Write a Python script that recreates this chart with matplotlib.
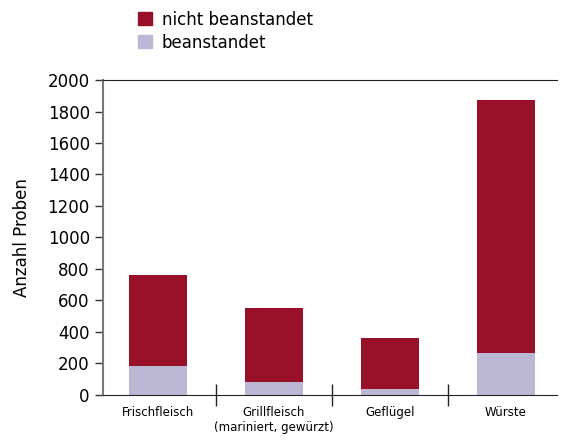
import numpy as np
import matplotlib.pyplot as plt
from matplotlib.patches import Patch

categories = ["Frischfleisch", "Grillfleisch\n(mariniert, gewürzt)", "Geflügel", "Würste"]
beanstandet = [182, 82, 36, 265]
gesamt = [760, 550, 360, 1870]
nicht_beanstandet = [g - b for g, b in zip(gesamt, beanstandet)]

col_red = "#981027"
col_lav = "#bdb7d6"

plt.rcParams['font.family'] = ['DejaVu Sans']

fig = plt.figure(figsize=(5.61, 4.43), dpi=100)
ax = fig.add_axes([0.1836, 0.1084, 0.8094, 0.711])

x = np.arange(len(categories))
ax.bar(x, beanstandet, width=0.5, color=col_lav)
ax.bar(x, nicht_beanstandet, width=0.5, bottom=beanstandet, color=col_red)

ax.set_ylim(0, 2000)
ax.set_xlim(-0.47, 3.44)
ax.set_yticks(range(0, 2001, 200))
ax.tick_params(axis='y', direction='out', length=6, width=1, color='#333333', labelsize=12)

# category separators as x ticks, labels as minor ticks
ax.set_xticks([0.5, 1.5, 2.5])
ax.set_xticklabels([])
ax.tick_params(axis='x', which='major', direction='inout', length=16, width=1, color='#222222')
ax.set_xticks(x, minor=True)
ax.set_xticklabels(categories, minor=True, fontsize=8.5)
ax.tick_params(axis='x', which='minor', length=0, pad=8)

ax.spines['right'].set_visible(False)
ax.spines['left'].set_color('#777777')
ax.spines['left'].set_linewidth(1.5)
ax.spines['top'].set_color('#222222')
ax.spines['bottom'].set_color('#222222')

ax.set_ylabel("Anzahl Proben", fontsize=12, labelpad=12)

handles = [Patch(color=col_red, label="nicht beanstandet"),
           Patch(color=col_lav, label="beanstandet")]
fig.legend(handles=handles, loc='upper left', bbox_to_anchor=(0.22, 1.01),
           frameon=False, fontsize=12, handlelength=0.8, handleheight=0.8,
           handletextpad=0.6, labelspacing=0.3)

plt.savefig("out.png")
